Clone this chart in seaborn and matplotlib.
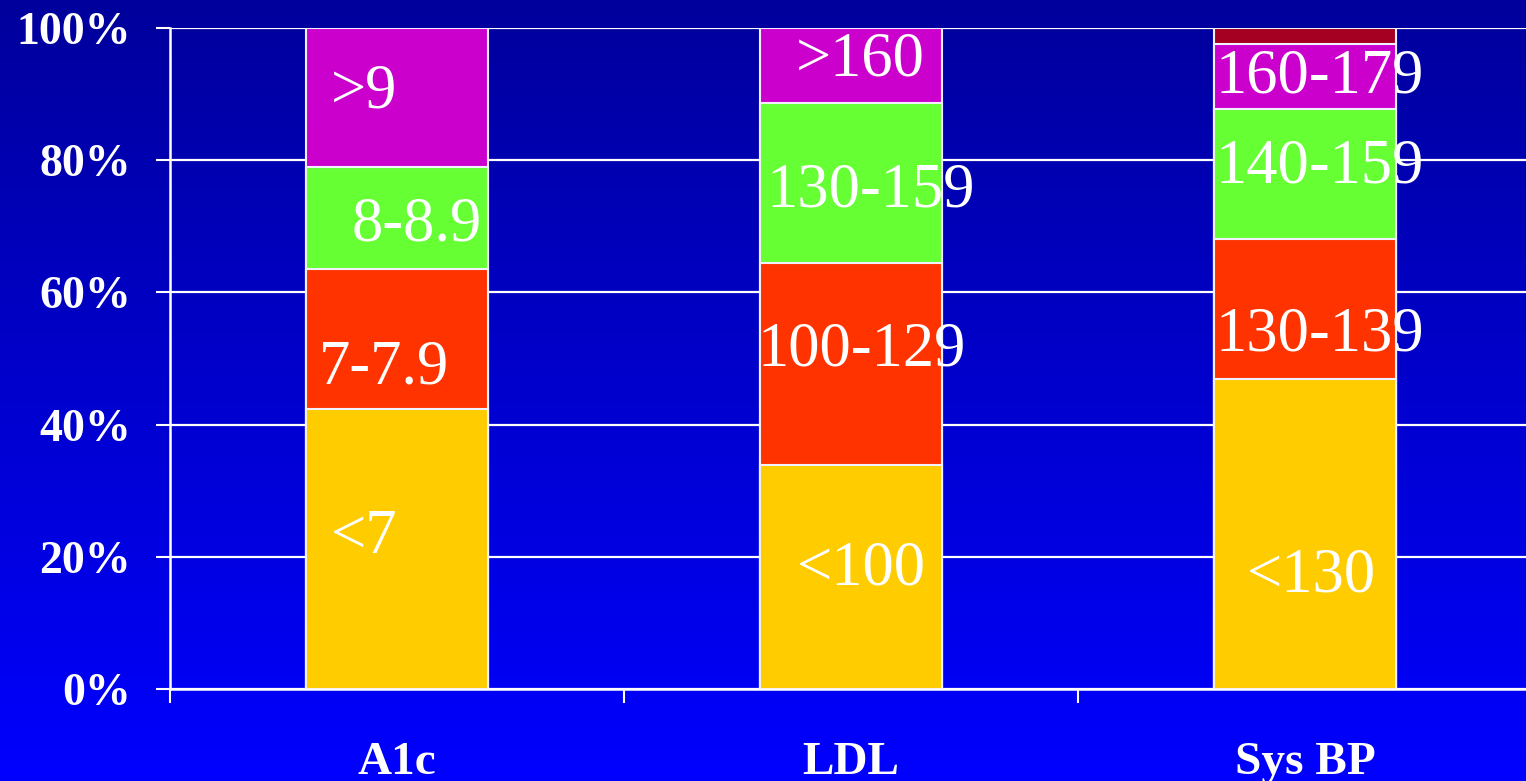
import numpy as np
import pandas as pd
import matplotlib
matplotlib.use("Agg")
import matplotlib.pyplot as plt
import seaborn as sns

# Categories and the share (%) of patients in each range, bottom to top
categories = ["A1c", "LDL", "Sys BP"]
a1c_shares = [42.4, 21.1, 15.5, 21.0]
ldl_shares = [33.9, 30.5, 24.3, 11.3]
sbp_shares = [46.9, 21.2, 19.6, 9.9, 2.4]

a1c_labels = ["<7", "7-7.9", "8-8.9", ">9"]
ldl_labels = ["<100", "100-129", "130-159", ">160"]
sbp_labels = ["<130", "130-139", "140-159", "160-179", ""]

y_ticks = [0, 20, 40, 60, 80, 100]
y_tick_labels = ["0%", "20%", "40%", "60%", "80%", "100%"]

# Segment colours, by stacking level
level_colors = ["#FFCC00", "#FF3300", "#66FF33", "#CC00CC", "#A50021"]

# Label placement inside each segment: (x offset from bar centre, y in %)
label_layout = {
    "A1c": [(-0.073, 23.9), (-0.029, 49.6), (0.044, 71.2), (-0.073, 91.3)],
    "LDL": [(0.022, 19.1), (0.024, 52.3), (0.044, 76.3), (0.020, 96.2)],
    "Sys BP": [(0.015, 18.1), (0.033, 54.6), (0.033, 79.9), (0.033, 93.5), (0, 0)],
}

shares = {"A1c": a1c_shares, "LDL": ldl_shares, "Sys BP": sbp_shares}
labels = {"A1c": a1c_labels, "LDL": ldl_labels, "Sys BP": sbp_labels}

rows = []
for cat in categories:
    tops = np.cumsum(shares[cat])
    for lvl, (val, top) in enumerate(zip(shares[cat], tops)):
        rows.append({"category": cat, "level": lvl, "share": val,
                     "top": top, "label": labels[cat][lvl]})
df = pd.DataFrame(rows)

sns.set_theme(style="white")
plt.rcParams["font.family"] = ["Liberation Serif", "DejaVu Serif"]

W, H, DPI = 1526, 781, 100
fig = plt.figure(figsize=(W / DPI, H / DPI), dpi=DPI)

# Vertical blue gradient backdrop
bg = fig.add_axes([0, 0, 1, 1], zorder=-10)
grad = np.linspace(0, 1, 256)[:, None]
bg_cmap = matplotlib.colors.LinearSegmentedColormap.from_list(
    "bluefade", ["#00009C", "#0000FF"])
bg.imshow(grad, aspect="auto", cmap=bg_cmap, extent=[0, 1, 0, 1], origin="upper")
bg.set_axis_off()

ax = fig.add_axes([170 / W, (H - 689) / H, (1532 - 170) / W, (689 - 28) / H])
ax.patch.set_alpha(0)

# Stacked bars: draw cumulative tops from the highest level down
for lvl in sorted(df["level"].unique(), reverse=True):
    sub = df[df["level"] == lvl]
    sns.barplot(data=sub, x="category", y="top", order=categories,
                color=level_colors[lvl], width=0.4, saturation=1,
                edgecolor="#F0F0FF", linewidth=1.5, errorbar=None,
                ax=ax, zorder=3)

# Segment labels
for _, r in df.iterrows():
    if not r["label"]:
        continue
    ci = categories.index(r["category"])
    dx, ypos = label_layout[r["category"]][r["level"]]
    ax.text(ci + dx, ypos, r["label"], color="white", fontsize=45,
            ha="center", va="center_baseline", zorder=5)

ax.set_xlim(-0.5, 2.5)
ax.set_ylim(0, 100)
ax.set_yticks(y_ticks)
ax.set_yticklabels(y_tick_labels, fontsize=33, fontweight="bold", color="white")
ax.set_xticks(range(len(categories)))
ax.set_xticklabels(categories, fontsize=34, fontweight="bold", color="white")
ax.set_xticks([-0.5, 0.5, 1.5, 2.5], minor=True)
ax.tick_params(axis="x", which="major", length=0, pad=38)
ax.tick_params(axis="x", which="minor", length=10, width=1.5, color="white",
               direction="out", bottom=True)
ax.tick_params(axis="y", length=10, width=1.5, color="white", direction="out",
               left=True, pad=18)
ax.set_xlabel("")
ax.set_ylabel("")

ax.grid(axis="y", color="white", linewidth=1.6, zorder=1)
ax.set_axisbelow(True)
for side in ["top", "right"]:
    ax.spines[side].set_visible(False)
for side in ["left", "bottom"]:
    ax.spines[side].set_color("white")
    ax.spines[side].set_linewidth(1.8)

fig.savefig("out.png", dpi=DPI)
